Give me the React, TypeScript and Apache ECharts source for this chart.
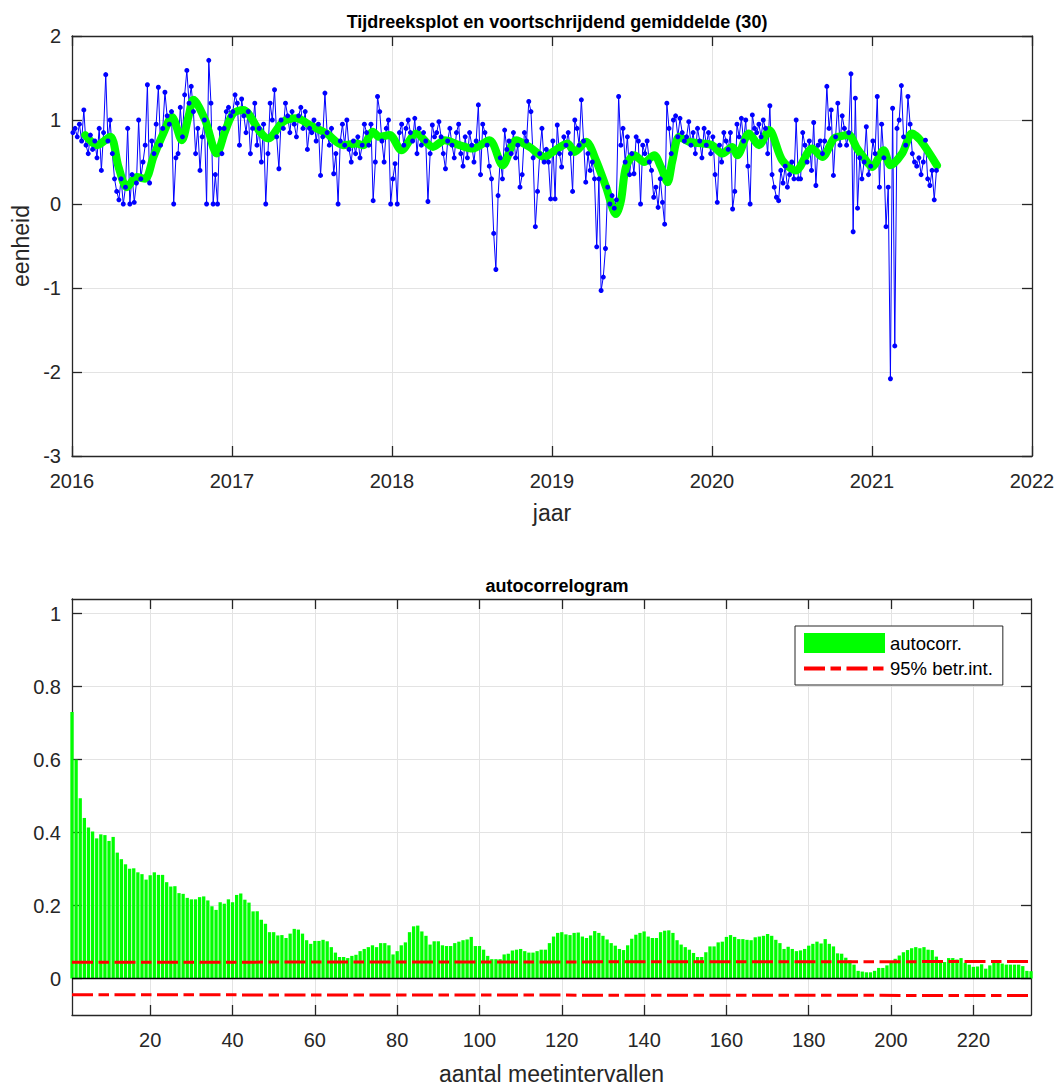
import React, { useEffect, useRef } from 'react';
import * as echarts from 'echarts';

// ---------- data: time series (sampled every 5 days from Jan 3 of each year) ----------
const years = [2016, 2017, 2018, 2019, 2020, 2021];
const v2016 = [0.85, 0.9, 0.8, 0.95, 0.75, 1.12, 0.7, 0.6, 0.82, 0.65,
  0.75, 0.55, 0.9, 0.4, 0.85, 1.54, 0.75, 1.0, 0.6, 0.3,
  0.15, 0.05, 0.3, 0.0, 0.2, 0.9, 0.0, 0.35, 0.02, 0.25,
  1.0, 0.3, 0.5, 0.7, 1.42, 0.25, 0.75, 0.6, 0.95, 1.39,
  0.7, 0.9, 1.33, 1.05, 0.95, 1.1, 0.0, 0.55, 0.6, 1.15,
  0.8, 1.3, 1.59, 1.2, 1.4, 1.1, 0.6, 0.9, 0.4, 0.8,
  1.0, 0.0, 1.71, 1.2, 0.0, 0.35, 0.0, 0.9, 0.6, 0.9,
  1.1, 1.15, 1.05];
const v2017 = [1.1, 1.3, 1.2, 0.7, 1.25, 1.05, 0.85, 1.1, 0.6, 0.9,
  1.2, 0.7, 0.9, 0.5, 0.95, 0.0, 0.6, 1.2, 1.0, 1.36,
  0.8, 0.42, 1.0, 0.9, 1.2, 1.05, 0.85, 1.1, 0.95, 0.8,
  1.05, 1.15, 0.9, 1.1, 0.65, 0.9, 0.85, 1.0, 0.75, 0.95,
  0.34, 0.8, 1.32, 0.85, 0.7, 0.9, 0.36, 0.6, 0.0, 0.75,
  0.95, 0.7, 1.0, 0.65, 0.5, 0.75, 0.6, 0.8, 0.55, 0.7,
  0.95, 0.85, 0.7, 0.95, 0.04, 0.5, 1.28, 1.1, 0.75, 0.5,
  0.9, 1.0, 0.0];
const v2018 = [0.3, 0.48, 0.0, 0.85, 0.95, 0.7, 0.9, 1.0, 0.85, 0.75,
  1.02, 0.6, 0.9, 0.7, 0.85, 0.75, 0.03, 0.6, 0.94, 0.8,
  0.85, 0.98, 0.8, 0.6, 0.42, 0.75, 0.9, 0.7, 0.55, 0.85,
  0.95, 0.6, 0.45, 0.8, 0.55, 0.85, 0.7, 0.5, 0.75, 1.18,
  0.35, 0.95, 0.85, 0.7, 0.45, 0.3, -0.35, -0.78, 0.1, 0.55,
  0.3, 0.88, 0.65, 0.75, 0.6, 0.85, 0.55, 0.7, 0.2, 0.35,
  0.85, 0.75, 1.22, 1.1, 0.55, -0.27, 0.15, 0.6, 0.9, 0.5,
  0.65, 0.5, 0.06];
const v2019 = [0.75, 0.06, 0.94, 0.6, 0.44, 0.8, 0.7, 0.85, 0.6, 0.15,
  1.0, 0.9, 0.7, 1.24, 0.75, 0.26, 0.6, 0.4, 0.5, 0.3,
  -0.51, 0.3, -1.03, -0.87, -0.53, 0.2, 0.0, 0.1, -0.05, 0.05,
  1.28, 0.7, 0.9, 0.5, 0.8, 0.35, 0.6, 0.36, 0.8, 0.75,
  0.0, 0.7, 0.6, 0.75, 0.5, 0.4, 0.08, 0.2, -0.04, 0.3,
  0.02, -0.24, 1.2, 0.9, 0.6, 1.0, 1.05, 0.8, 1.02, 0.85,
  0.75, 0.8, 0.98, 0.7, 0.85, 0.6, 0.9, 0.75, 0.55, 0.9,
  0.7, 0.85, 0.6];
const v2020 = [0.8, 0.35, 0.02, 0.7, 0.5, 0.85, 0.75, 0.65, 0.85, -0.06,
  0.15, 0.95, 0.8, 1.02, 0.75, 1.0, 0.45, 0.0, 1.06, 0.9,
  0.85, 0.95, 0.8, 1.0, 0.9, 0.6, 1.17, 0.35, 0.2, 0.08,
  0.04, 0.4, 0.25, 0.45, 0.2, 0.35, 0.5, 0.3, 1.0, 0.3,
  0.3, 0.85, 0.7, 0.5, 0.75, 0.4, 0.97, 0.22, 0.7, 0.75,
  0.6, 0.75, 1.4, 0.9, 1.12, 0.34, 0.8, 1.2, 0.7, 1.05,
  0.9, 0.7, 0.85, 1.55, -0.33, 1.26, -0.05, 0.55, 0.3, 0.5,
  0.92, 0.35, 0.45];
const v2021 = [0.75, 0.6, 1.28, 0.2, 0.95, 0.55, -0.27, 0.2, -2.08, 1.14,
  -1.69, 0.9, 1.0, 1.41, 0.8, 0.7, 1.28, 0.95, 0.6, 0.5,
  0.45, 0.55, 0.35, 0.5, 0.76, 0.3, 0.22, 0.4, 0.05, 0.4];

// ---------- moving average (30) ----------
const maYear = [2016.083, 2016.156, 2016.239, 2016.291, 2016.343, 2016.405, 2016.457, 2016.509, 2016.571, 2016.624,
  2016.686, 2016.728, 2016.759, 2016.832, 2016.905, 2016.956, 2017.008, 2017.07, 2017.175, 2017.226,
  2017.32, 2017.404, 2017.487, 2017.59, 2017.694, 2017.778, 2017.82, 2017.88, 2017.92, 2017.986,
  2018.059, 2018.152, 2018.256, 2018.329, 2018.422, 2018.505, 2018.609, 2018.692, 2018.776, 2018.859,
  2018.953, 2019.004, 2019.098, 2019.14, 2019.213, 2019.275, 2019.338, 2019.4, 2019.431, 2019.462,
  2019.514, 2019.576, 2019.639, 2019.681, 2019.722, 2019.753, 2019.795, 2019.857, 2019.94, 2020.002,
  2020.065, 2020.127, 2020.158, 2020.231, 2020.294, 2020.356, 2020.439, 2020.523, 2020.626, 2020.689,
  2020.762, 2020.813, 2020.855, 2020.907, 2020.95, 2021.0, 2021.073, 2021.115, 2021.188, 2021.25,
  2021.302, 2021.406];
const maValue = [0.82, 0.70, 0.80, 0.44, 0.20, 0.32, 0.30, 0.56, 0.84, 1.04,
  0.76, 1.04, 1.24, 1.00, 0.60, 0.86, 1.08, 1.12, 0.86, 0.78,
  0.98, 1.02, 0.94, 0.84, 0.70, 0.72, 0.70, 0.86, 0.80, 0.82,
  0.64, 0.84, 0.68, 0.76, 0.70, 0.66, 0.76, 0.46, 0.76, 0.68,
  0.56, 0.62, 0.72, 0.62, 0.74, 0.52, 0.20, -0.12, 0.04, 0.44,
  0.58, 0.50, 0.58, 0.44, 0.26, 0.52, 0.80, 0.74, 0.72, 0.70,
  0.60, 0.68, 0.58, 0.84, 0.70, 0.88, 0.52, 0.40, 0.66, 0.56,
  0.78, 0.81, 0.82, 0.66, 0.55, 0.44, 0.64, 0.46, 0.60, 0.84,
  0.76, 0.46];

// ---------- autocorrelation, lags 1..234 ----------
const acf = [0.73, 0.60, 0.494, 0.44, 0.414, 0.403, 0.384, 0.395, 0.393, 0.377,
  0.388, 0.345, 0.327, 0.313, 0.301, 0.302, 0.291, 0.286, 0.271, 0.283,
  0.291, 0.284, 0.284, 0.264, 0.252, 0.253, 0.234, 0.232, 0.221, 0.217,
  0.217, 0.223, 0.225, 0.214, 0.198, 0.188, 0.209, 0.205, 0.217, 0.209,
  0.229, 0.233, 0.216, 0.208, 0.184, 0.184, 0.161, 0.150, 0.127, 0.127,
  0.118, 0.119, 0.111, 0.123, 0.136, 0.134, 0.123, 0.105, 0.095, 0.103,
  0.103, 0.106, 0.102, 0.086, 0.071, 0.059, 0.059, 0.056, 0.062, 0.065,
  0.075, 0.081, 0.086, 0.091, 0.086, 0.097, 0.097, 0.091, 0.066, 0.075,
  0.091, 0.099, 0.127, 0.143, 0.145, 0.129, 0.117, 0.093, 0.102, 0.102,
  0.091, 0.089, 0.089, 0.097, 0.101, 0.105, 0.107, 0.114, 0.089, 0.089,
  0.079, 0.062, 0.053, 0.053, 0.053, 0.066, 0.068, 0.077, 0.079, 0.081,
  0.075, 0.071, 0.071, 0.075, 0.079, 0.079, 0.097, 0.115, 0.125, 0.127,
  0.121, 0.119, 0.125, 0.126, 0.115, 0.111, 0.118, 0.130, 0.125, 0.117,
  0.107, 0.097, 0.090, 0.081, 0.078, 0.091, 0.109, 0.120, 0.125, 0.129,
  0.115, 0.111, 0.111, 0.127, 0.131, 0.132, 0.125, 0.105, 0.093, 0.086,
  0.079, 0.070, 0.059, 0.059, 0.072, 0.088, 0.088, 0.099, 0.101, 0.114,
  0.119, 0.114, 0.108, 0.108, 0.106, 0.105, 0.113, 0.115, 0.117, 0.122,
  0.117, 0.106, 0.097, 0.081, 0.087, 0.081, 0.075, 0.077, 0.081, 0.090,
  0.095, 0.101, 0.096, 0.108, 0.095, 0.088, 0.069, 0.068, 0.057, 0.050,
  0.038, 0.021, 0.019, 0.017, 0.017, 0.021, 0.029, 0.029, 0.036, 0.045,
  0.054, 0.063, 0.072, 0.078, 0.083, 0.086, 0.083, 0.086, 0.079, 0.078,
  0.060, 0.045, 0.045, 0.056, 0.056, 0.052, 0.056, 0.043, 0.038, 0.032,
  0.033, 0.039, 0.027, 0.036, 0.048, 0.045, 0.041, 0.038, 0.038, 0.038,
  0.038, 0.034, 0.021, 0.02];
const ciLag = [1, 234];
const ciUpper = [0.0445, 0.0465];
const ciLower = [-0.0445, -0.0465];

// ---------- ticks ----------
const lagTicks = [20, 40, 60, 80, 100, 120, 140, 160, 180, 200, 220];
const acfTicks = [0, 0.2, 0.4, 0.6, 0.8, 1];

const FONT = '"Liberation Sans", Arial, Helvetica, sans-serif';
const AX = '#262626';
const GRIDC = '#e3e3e3';

export default function App() {
  const ref = useRef<HTMLDivElement>(null);
  useEffect(() => {
    if (!ref.current) return;
    const chart = echarts.init(ref.current, undefined, { renderer: 'svg' });
    const blocks = [v2016, v2017, v2018, v2019, v2020, v2021];
    const blue = years.flatMap((y, k) => blocks[k].map((v, i) => [y + (2 + 5 * i) / 365, v]));
    const ma = maYear.map((x, i) => [x, maValue[i]]);
    const bars = acf.map((v, i) => [i + 1, v]);
    const upper = ciLag.map((x, i) => [x, ciUpper[i]]);
    const lower = ciLag.map((x, i) => [x, ciLower[i]]);

    const tick = { show: true, inside: true, length: 10, lineStyle: { color: AX, width: 1.3 } };
    const line = { show: true, onZero: false, lineStyle: { color: AX, width: 1.3 } };
    const lbl = { color: AX, fontSize: 20, fontFamily: FONT };
    const nameStyle = { fontSize: 23, color: AX, fontFamily: FONT };
    const split = { show: true, lineStyle: { color: GRIDC, width: 1 } };
    const dash = [21, 5.5, 10.5, 5.5];

    chart.setOption({
      animation: false,
      backgroundColor: '#fff',
      title: [
        { text: 'Tijdreeksplot en voortschrijdend gemiddelde (30)', left: 552, top: 8, textAlign: 'center',
          textStyle: { fontSize: 18, fontWeight: 'bold', color: '#000', fontFamily: FONT } },
        { text: 'autocorrelogram', left: 552, top: 572, textAlign: 'center',
          textStyle: { fontSize: 18, fontWeight: 'bold', color: '#000', fontFamily: FONT } },
      ],
      grid: [
        { left: 72, top: 36, width: 960, height: 420 },
        { left: 72, top: 599, width: 959, height: 416 },
      ],
      legend: {
        left: 795, top: 626, orient: 'vertical', itemWidth: 81, itemHeight: 20, itemGap: 6,
        padding: [7, 10, 7, 7], borderColor: AX, borderWidth: 1, backgroundColor: '#fff',
        textStyle: { fontSize: 18.5, color: '#000', fontFamily: FONT },
        lineStyle: { width: 4 },
        data: [
          { name: 'autocorr.', icon: 'rect' },
          { name: '95% betr.int.', itemStyle: { opacity: 0 },
            lineStyle: { color: '#ff0000', width: 4, type: dash } },
        ],
      },
      xAxis: [
        { type: 'value', gridIndex: 0, min: 2016, max: 2022, interval: 1, position: 'bottom',
          name: 'jaar', nameLocation: 'middle', nameGap: 45, nameTextStyle: nameStyle,
          axisLine: line, axisTick: tick, splitLine: split,
          axisLabel: { ...lbl, margin: 15, formatter: (v: number) => String(v) } },
        { type: 'value', gridIndex: 0, min: 2016, max: 2022, interval: 1, position: 'top',
          axisLine: line, axisTick: tick, splitLine: { show: false }, axisLabel: { show: false } },
        { type: 'value', gridIndex: 1, min: 1, max: 234, position: 'bottom',
          name: 'aantal meetintervallen', nameLocation: 'middle', nameGap: 47, nameTextStyle: nameStyle,
          axisLine: line, axisTick: { ...tick, customValues: lagTicks }, splitLine: split,
          axisLabel: { ...lbl, margin: 15, customValues: lagTicks } },
        { type: 'value', gridIndex: 1, min: 1, max: 234, position: 'top',
          axisLine: line, axisTick: { ...tick, customValues: lagTicks }, splitLine: { show: false },
          axisLabel: { show: false, customValues: lagTicks } },
      ],
      yAxis: [
        { type: 'value', gridIndex: 0, min: -3, max: 2, interval: 1, position: 'left',
          name: 'eenheid', nameLocation: 'middle', nameGap: 35, nameTextStyle: nameStyle,
          axisLine: line, axisTick: tick, splitLine: split, axisLabel: { ...lbl, margin: 11 } },
        { type: 'value', gridIndex: 0, min: -3, max: 2, interval: 1, position: 'right',
          axisLine: line, axisTick: tick, splitLine: { show: false }, axisLabel: { show: false } },
        { type: 'value', gridIndex: 1, min: -0.1, max: 1.04, position: 'left',
          axisLine: line, axisTick: { ...tick, customValues: acfTicks }, splitLine: split,
          axisLabel: { ...lbl, margin: 11, customValues: acfTicks } },
        { type: 'value', gridIndex: 1, min: -0.1, max: 1.04, position: 'right',
          axisLine: line, axisTick: { ...tick, customValues: acfTicks }, splitLine: { show: false },
          axisLabel: { show: false, customValues: acfTicks } },
      ],
      series: [
        { name: 'meting', type: 'line', xAxisIndex: 0, yAxisIndex: 0, data: blue,
          symbol: 'circle', symbolSize: 5, color: '#0000ff',
          lineStyle: { color: '#0000ff', width: 1 }, itemStyle: { color: '#0000ff' } },
        { name: 'gemiddelde', type: 'line', xAxisIndex: 0, yAxisIndex: 0, data: ma,
          symbol: 'none', smooth: 0.3, color: '#00ff00',
          lineStyle: { color: '#00ff00', width: 8, cap: 'round', join: 'round' } },
        { name: 'autocorr.', type: 'bar', xAxisIndex: 2, yAxisIndex: 2, data: bars,
          barWidth: 3.3, color: '#00ff00', itemStyle: { color: '#00ff00' },
          markLine: { silent: true, symbol: 'none', label: { show: false },
            lineStyle: { color: '#000', width: 1.3, type: 'solid' }, data: [{ yAxis: 0 }] } },
        { name: '95% betr.int.', type: 'line', xAxisIndex: 2, yAxisIndex: 2, data: upper,
          symbol: 'none', color: '#ff0000', lineStyle: { color: '#ff0000', width: 3, type: dash } },
        { name: '95% betr.int.', type: 'line', xAxisIndex: 2, yAxisIndex: 2, data: lower,
          symbol: 'none', color: '#ff0000', lineStyle: { color: '#ff0000', width: 3, type: dash } },
      ],
    });
    return () => chart.dispose();
  }, []);
  return <div ref={ref} style={{ position: 'absolute', left: 0, top: 0, width: 1059, height: 1087 }} />;
}
